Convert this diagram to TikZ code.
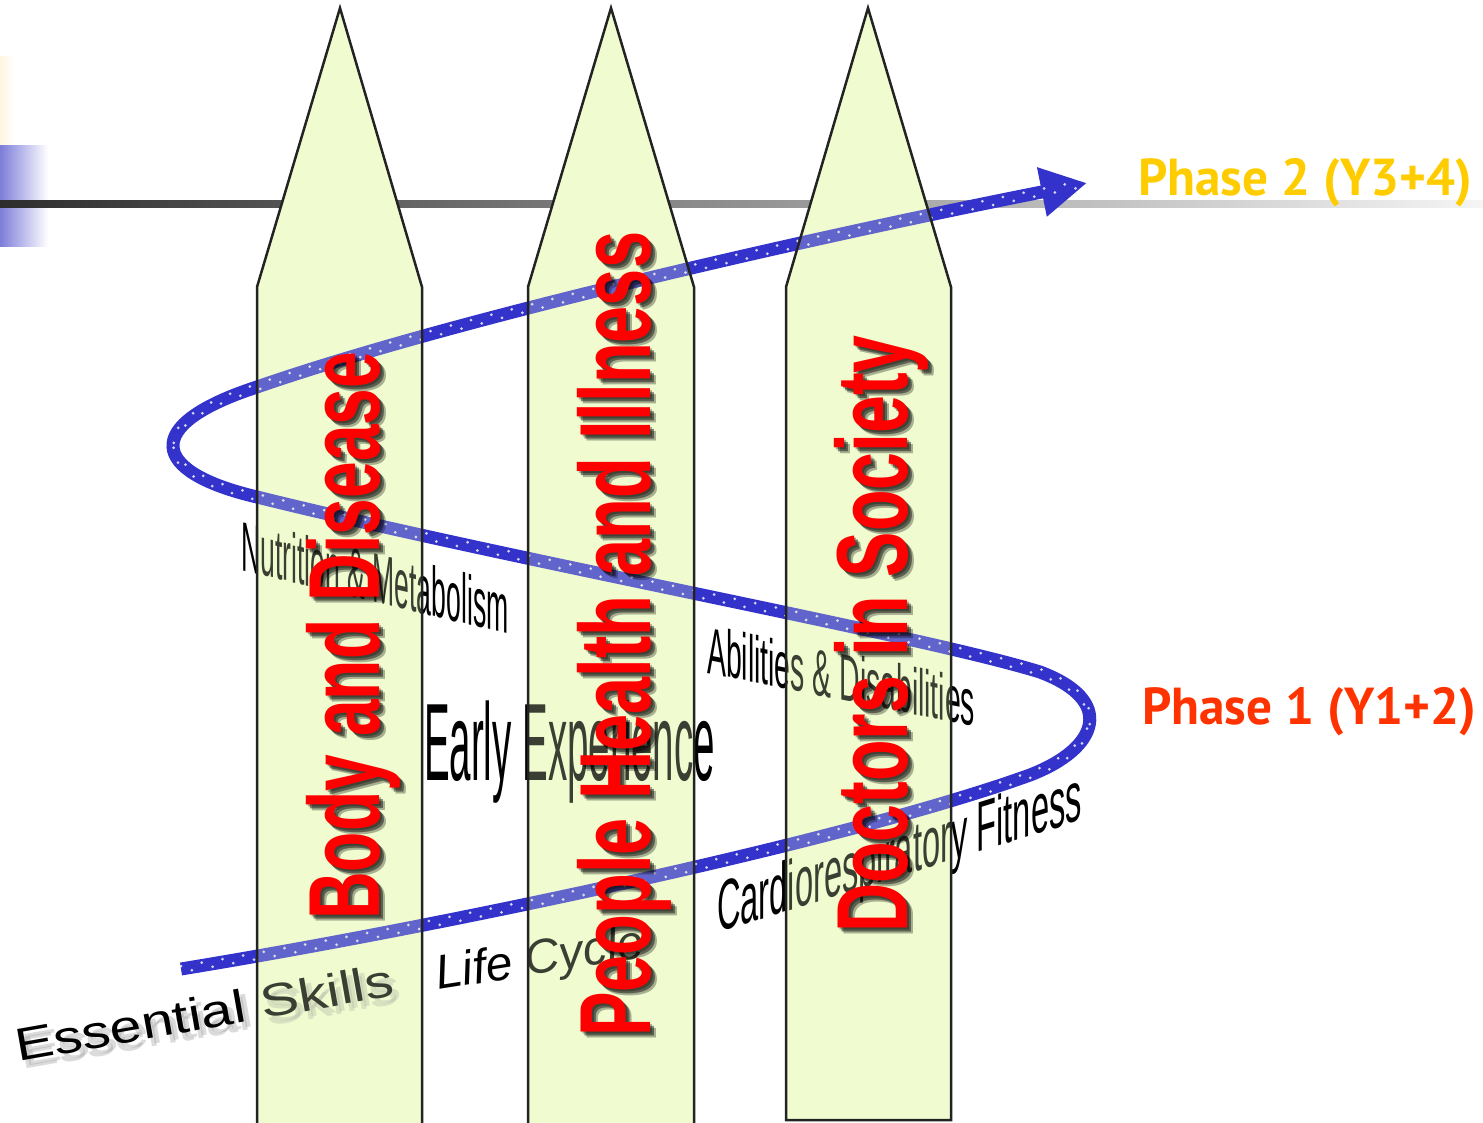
\documentclass[tikz,border=0pt]{standalone}
\usepackage{fontspec}
\setmainfont{Liberation Sans}
\newfontfamily\phasefont{PT Sans}
\usetikzlibrary{arrows.meta}
\definecolor{spiralblue}{RGB}{51,51,204}
\definecolor{pillarfill}{RGB}{241,253,210}
\definecolor{pillarover}{RGB}{238,250,200}
\definecolor{pillarline}{RGB}{35,35,35}
\definecolor{phasetwo}{RGB}{255,204,0}
\definecolor{phaseone}{RGB}{255,51,0}
\definecolor{redtext}{RGB}{255,0,0}
\newcommand\spiralcurve{(181,969) .. controls (450,925) and (850,840) .. (1030,775) .. controls (1100,748) and (1115,700) .. (1040,672) .. controls (920,635) and (520,562) .. (257,497) .. controls (150,472) and (140,425) .. (257,387) .. controls (450,320) and (800,240) .. (1087,183)}
\newcommand\pillarone{(257,1130) -- (257,287) -- (340,8) -- (422,287) -- (422,1130)}
\newcommand\pillartwo{(528,1130) -- (528,287) -- (611,8) -- (694,287) -- (694,1130)}
\newcommand\pillarthree{(786,1120) -- (786,287) -- (868,8) -- (951,287) -- (951,1120)}
\tikzset{
  redlabel/.style={font=\bfseries\fontsize{101}{101}\selectfont, text=redtext, rotate=90, anchor=base west, inner sep=0pt},
  redshadow/.style={font=\bfseries\fontsize{101}{101}\selectfont, text=black, rotate=90, anchor=base west, inner sep=0pt, opacity=#1},
  narrowlabel/.style={font=\fontsize{#1}{#1}\selectfont, text=black, anchor=base west, inner sep=0pt},
  phaselabel/.style={font=\phasefont\bfseries\fontsize{52}{52}\selectfont, anchor=base west, inner sep=0pt, xscale=0.985},
  pillaredge/.style={draw=pillarline, line width=2.5pt, line join=miter},
  dotrow/.style={draw=white, draw opacity=0.8, line width=3pt, line cap=round, dash pattern=on 0pt off 21pt}
}
\begin{document}
\begin{tikzpicture}[x=1pt,y=-1pt]
\useasboundingbox (0,0) rectangle (1483,1123);
% left decorations
\shade[left color={rgb,255:red,255;green,246;blue,225}, right color=white] (0,57) rectangle (15,146);
\shade[left color={rgb,255:red,125;green,125;blue,218}, right color=white] (0,146) rectangle (48,247);
% horizontal fading line
\shade[left color={rgb,255:red,45;green,45;blue,45}, right color={rgb,255:red,245;green,245;blue,245}] (0,201) rectangle (1483,208);
% pillar bodies
\fill[pillarfill] \pillarone -- cycle;
\fill[pillarfill] \pillartwo -- cycle;
\fill[pillarfill] \pillarthree -- cycle;
% spiral
\draw[spiralblue, line width=13pt, -{Triangle[width=47pt,length=46pt]}] \spiralcurve;
\draw[dotrow, yshift=3pt] \spiralcurve;
\draw[dotrow, yshift=-3pt, dash phase=10pt] \spiralcurve;
% black texts
\node[narrowlabel=46, text=black!40, opacity=0.35, rotate=10, xscale=1.25] (esshadowa) at (22,1070) {Essential Skills};
\node[narrowlabel=46, text=black!40, opacity=0.35, rotate=10, xscale=1.25] (esshadowb) at (25,1067) {Essential Skills};
\node[narrowlabel=46, rotate=10, xscale=1.25] (essential) at (18,1062) {Essential Skills};
\node[narrowlabel=48, font=\itshape\fontsize{48}{48}\selectfont, rotate=9] (lifecycle) at (438,990) {Life Cycle};
\node[narrowlabel=110, xscale=0.35] (early) at (424,780) {Early Experience};
\node[narrowlabel=70, yslant=-0.24, xscale=0.38] (nutrition) at (241,570) {Nutrition \& Metabolism};
\node[narrowlabel=66, yslant=-0.2, xscale=0.43] (abilities) at (707,673) {Abilities \& Disabilities};
\node[narrowlabel=71, yslant=0.31, xscale=0.46] (cardio) at (717,933) {Cardiorespiratory Fitness};
% pillar translucent overlay and outlines
\fill[pillarover, fill opacity=0.25] \pillarone -- cycle;
\fill[pillarover, fill opacity=0.25] \pillartwo -- cycle;
\fill[pillarover, fill opacity=0.25] \pillarthree -- cycle;
\draw[pillaredge] \pillarone;
\draw[pillaredge] \pillartwo;
\draw[pillaredge] \pillarthree -- cycle;
% red pillar titles with soft shadows
\node[redshadow=0.3, xscale=0.653] (bodysh1) at (381,922) {Body and Disease};
\node[redshadow=0.45, xscale=0.653] (bodysh2) at (383,924) {Body and Disease};
\node[redshadow=0.3, xscale=0.653] (bodysh3) at (385,926) {Body and Disease};
\node[redlabel, xscale=0.653] (body) at (379,920) {Body and Disease};
\node[redshadow=0.3, xscale=0.661] (peoplesh1) at (652,1039) {People Health and Illness};
\node[redshadow=0.45, xscale=0.661] (peoplesh2) at (654,1041) {People Health and Illness};
\node[redshadow=0.3, xscale=0.661] (peoplesh3) at (656,1043) {People Health and Illness};
\node[redlabel, xscale=0.661] (people) at (650,1037) {People Health and Illness};
\node[redshadow=0.3, xscale=0.674] (doctorssh1) at (909,935) {Doctors in Society};
\node[redshadow=0.45, xscale=0.674] (doctorssh2) at (911,937) {Doctors in Society};
\node[redshadow=0.3, xscale=0.674] (doctorssh3) at (913,939) {Doctors in Society};
\node[redlabel, xscale=0.674] (doctors) at (907,933) {Doctors in Society};
% phase labels
\node[phaselabel, text=phasetwo] (phase2) at (1138,196) {Phase 2 (Y3+4)};
\node[phaselabel, text=phaseone] (phase1) at (1142,724) {Phase 1 (Y1+2)};
\end{tikzpicture}
\end{document}
